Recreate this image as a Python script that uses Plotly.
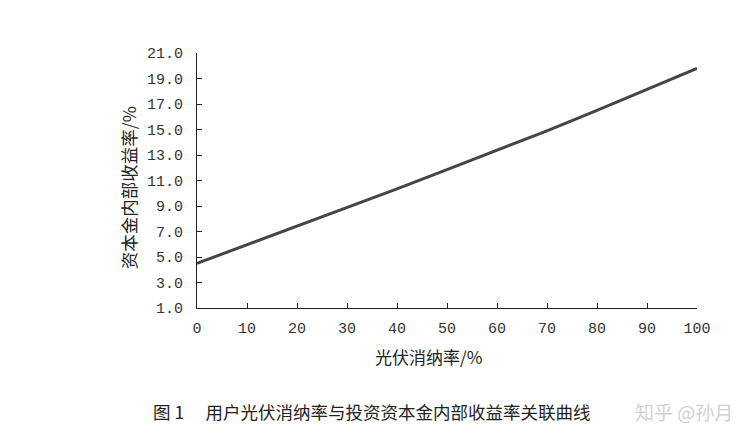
import plotly.graph_objects as go

# PV self-consumption rate (%) vs. equity IRR (%)
consumption_rate = [0, 10, 20, 30, 40, 50, 60, 70, 80, 90, 100]
equity_irr = [4.5, 5.95, 7.4, 8.85, 10.35, 11.85, 13.35, 14.9, 16.5, 18.15, 19.8]

y_ticks = [1, 3, 5, 7, 9, 11, 13, 15, 17, 19, 21]
y_tick_text = [f"{v:.1f}" for v in y_ticks]
x_ticks = list(range(0, 101, 10))

cjk = "Noto Sans CJK SC"
mono = "Liberation Mono"

fig = go.Figure()
fig.add_trace(go.Scatter(
    x=consumption_rate, y=equity_irr, mode="lines",
    line=dict(color="#454545", width=3), showlegend=False,
))

fig.update_layout(
    width=754, height=440,
    margin=dict(l=197, r=57, t=53, b=132),
    paper_bgcolor="white", plot_bgcolor="white",
    xaxis=dict(
        range=[0, 100], tickvals=x_ticks, ticks="inside", ticklen=5,
        tickwidth=1, tickcolor="#222", showline=True, linecolor="#222",
        linewidth=1.2, showgrid=False, zeroline=False,
        ticklabelstandoff=6,
        tickfont=dict(family=mono, size=15, color="#333"),
    ),
    yaxis=dict(
        range=[1, 21], tickvals=y_ticks, ticktext=y_tick_text, ticks="inside",
        ticklen=5, tickwidth=1, tickcolor="#222", showline=True,
        linecolor="#222", linewidth=1.2, showgrid=False, zeroline=False,
        ticklabelstandoff=10,
        tickfont=dict(family=mono, size=15, color="#333"),
    ),
)

# axis titles
fig.add_annotation(
    text="光伏消纳率/%", xref="paper", yref="paper", x=0.462, y=-0.19,
    xanchor="center", yanchor="middle", showarrow=False,
    font=dict(family=cjk, size=17, color="#222"),
)
fig.add_annotation(
    text="资本金内部收益率/%", xref="paper", yref="paper", x=-0.138, y=0.47,
    xanchor="center", yanchor="middle", textangle=-90, showarrow=False,
    font=dict(family=cjk, size=17.5, color="#222"),
)

# caption and credit
fig.add_annotation(
    text="图 1　 用户光伏消纳率与投资资本金内部收益率关联曲线",
    xref="paper", yref="paper", x=-0.092, y=-0.405, xanchor="left", yanchor="middle",
    showarrow=False, font=dict(family=cjk, size=17.5, color="#222"),
)
fig.add_annotation(
    text="知乎 @孙月",
    xref="paper", yref="paper", x=1.075, y=-0.405, xanchor="right", yanchor="middle",
    showarrow=False, font=dict(family=cjk, size=19, color="rgba(195,195,195,0.8)"),
)

fig.write_html("out.html")
